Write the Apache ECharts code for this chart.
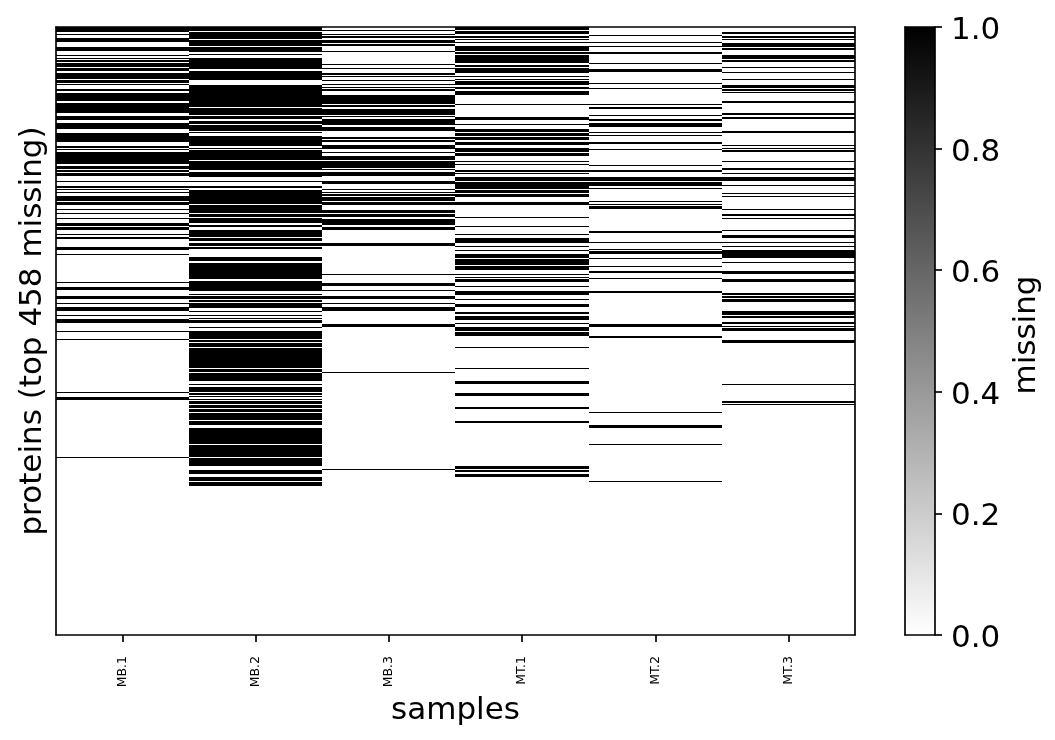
<!DOCTYPE html>
<html><head><meta charset="utf-8">
<style>html,body{margin:0;padding:0;background:#fff}#c{width:1055px;height:740px}</style>
<script src="https://cdn.jsdelivr.net/npm/echarts@6/dist/echarts.min.js"></script>
</head><body><div id="c"></div>
<script>
const samples = ['MB.1','MB.2','MB.3','MT.1','MT.2','MT.3'];
const proteinCount = 458;
const colorbarTicks = [0, 0.2, 0.4, 0.6, 0.8, 1.0];
// protein-row ranges [from, to) that are missing, one list per sample
const missingMB1 = [[0,4],[5,6],[8,11],[15,18],[21,22],[23,24],[25,26],[27,30],[31,33],[35,39],[40,42],[43,44],[47,48],[50,56],[57,65],[67,70],[72,77],[80,87],[90,91],[92,93],[94,103],[105,107],[108,109],[110,112],[116,117],[120,121],[122,123],[124,125],[127,131],[132,134],[137,138],[140,141],[144,145],[148,150],[151,153],[156,157],[158,160],[166,168],[171,172],[192,193],[196,198],[203,205],[208,209],[211,214],[217,218],[220,223],[229,230],[235,236],[275,276],[279,281],[324,325]];
const missingMB2 = [[0,3],[4,9],[10,14],[15,19],[20,21],[23,32],[33,40],[44,60],[61,66],[67,69],[71,73],[74,78],[79,80],[82,90],[91,92],[93,100],[101,108],[109,113],[116,117],[120,121],[123,133],[134,140],[141,143],[144,148],[149,151],[153,158],[159,161],[163,165],[166,167],[173,176],[178,190],[191,199],[201,202],[203,205],[206,207],[208,212],[214,215],[217,218],[219,220],[221,223],[226,227],[229,235],[236,237],[238,241],[242,257],[258,260],[261,267],[269,270],[271,275],[276,277],[278,279],[280,281],[282,284],[285,287],[288,290],[291,296],[297,300],[302,314],[315,324],[325,331],[334,337],[339,342],[343,346]];
const missingMB3 = [[2,3],[5,6],[7,8],[10,12],[13,14],[18,19],[28,29],[31,32],[35,36],[37,38],[40,41],[43,44],[45,46],[47,48],[51,58],[59,60],[62,66],[67,68],[69,74],[75,78],[83,84],[85,87],[89,92],[94,95],[97,100],[101,106],[107,108],[109,112],[116,118],[122,123],[124,125],[126,127],[128,131],[132,134],[138,140],[141,143],[145,149],[151,153],[163,165],[186,187],[193,195],[198,199],[203,205],[208,209],[211,214],[224,226],[260,261],[333,334]];
const missingMT1 = [[0,2],[3,5],[7,8],[9,10],[11,12],[14,18],[19,20],[21,27],[29,30],[31,35],[37,38],[39,40],[41,44],[45,47],[48,51],[58,59],[68,70],[73,74],[77,79],[80,82],[83,85],[87,89],[91,94],[95,97],[101,102],[103,104],[108,109],[110,111],[113,116],[117,122],[123,125],[126,128],[132,134],[143,144],[150,151],[156,157],[159,163],[165,166],[168,169],[171,174],[175,179],[180,183],[186,187],[188,189],[190,192],[195,196],[199,202],[205,206],[209,211],[215,216],[218,221],[223,224],[226,229],[230,233],[241,242],[257,258],[267,269],[276,278],[286,288],[297,298],[331,333],[334,335],[337,339]];
const missingMT2 = [[6,7],[11,12],[14,15],[19,20],[27,28],[32,34],[42,43],[46,47],[58,59],[60,62],[66,67],[69,71],[72,75],[79,80],[81,82],[87,88],[92,93],[104,105],[108,109],[113,116],[117,120],[121,122],[131,132],[133,134],[135,137],[154,155],[162,163],[167,168],[169,171],[174,175],[180,181],[184,185],[189,190],[199,200],[224,226],[233,234],[290,291],[300,302],[314,315],[342,343]];
const missingMT3 = [[4,5],[7,8],[9,10],[12,15],[16,17],[21,24],[25,26],[30,31],[34,35],[39,40],[44,46],[47,48],[49,50],[56,57],[65,66],[68,69],[78,80],[89,90],[91,92],[93,94],[101,102],[106,108],[110,111],[113,116],[119,120],[125,126],[127,128],[137,138],[141,142],[144,145],[153,154],[157,159],[162,163],[165,166],[168,174],[177,178],[184,186],[190,192],[200,202],[203,204],[205,207],[214,217],[218,219],[222,224],[225,226],[227,229],[236,238],[269,270],[282,283],[284,285]];

const runs = [missingMB1,missingMB2,missingMB3,missingMT1,missingMT2,missingMT3]
  .flatMap((list,i)=>list.map(r=>[i,r[0],r[1]]));
const F='"DejaVu Sans"', K='#000', LW=1.67, FS=31;
const hidden={show:false};
const chart=echarts.init(document.getElementById('c'),null,{renderer:'canvas'});
chart.setOption({
  animation:false,backgroundColor:'#fff',
  textStyle:{fontFamily:F,color:K},
  grid:[{left:56,top:27,width:799,height:608,outerBoundsMode:'none'},{left:905,top:27,width:30,height:608,outerBoundsMode:'none'}],
  xAxis:[
    {gridIndex:0,type:'category',data:samples,position:'bottom',z:5,
     axisLine:{onZero:false,lineStyle:{color:K,width:LW}},
     axisTick:{show:true,alignWithLabel:true,length:7,lineStyle:{color:K,width:LW}},
     axisLabel:{rotate:90,fontSize:12.5,color:K,fontFamily:F,margin:21,interval:0},
     splitLine:hidden,
     name:'samples',nameLocation:'middle',nameGap:57,
     nameTextStyle:{fontSize:FS,color:K,fontFamily:F}},
    {gridIndex:0,type:'category',data:samples,position:'top',z:5,
     axisLine:{onZero:false,lineStyle:{color:K,width:LW}},axisTick:hidden,axisLabel:hidden,splitLine:hidden},
    {gridIndex:1,type:'category',data:['missing'],position:'bottom',z:5,
     axisLine:{onZero:false,lineStyle:{color:K,width:LW}},axisTick:hidden,axisLabel:hidden,splitLine:hidden},
    {gridIndex:1,type:'category',data:['missing'],position:'top',z:5,
     axisLine:{onZero:false,lineStyle:{color:K,width:LW}},axisTick:hidden,axisLabel:hidden,splitLine:hidden}
  ],
  yAxis:[
    {gridIndex:0,type:'value',inverse:true,min:0,max:proteinCount,position:'left',z:5,
     axisLine:{show:true,onZero:false,lineStyle:{color:K,width:LW}},axisTick:hidden,axisLabel:hidden,splitLine:hidden,
     name:'proteins (top 458 missing)',nameLocation:'middle',nameRotate:90,nameGap:8,
     nameTextStyle:{fontSize:FS,color:K,fontFamily:F}},
    {gridIndex:0,type:'value',inverse:true,min:0,max:proteinCount,position:'right',z:5,
     axisLine:{show:true,onZero:false,lineStyle:{color:K,width:LW}},axisTick:hidden,axisLabel:hidden,splitLine:hidden},
    {gridIndex:1,type:'value',min:colorbarTicks[0],max:colorbarTicks[5],interval:0.2,position:'right',z:5,
     axisLine:{show:true,onZero:false,lineStyle:{color:K,width:LW}},
     axisTick:{show:true,length:7,lineStyle:{color:K,width:LW}},
     axisLabel:{fontSize:FS,color:K,fontFamily:F,margin:16,verticalAlign:'top',lineHeight:8,formatter:v=>v.toFixed(1)},
     splitLine:hidden,
     name:'missing',nameLocation:'middle',nameRotate:90,nameGap:76,
     nameTextStyle:{fontSize:FS,color:K,fontFamily:F,padding:[0,8,0,0]}},
    {gridIndex:1,type:'value',min:0,max:1,position:'left',z:5,
     axisLine:{show:true,onZero:false,lineStyle:{color:K,width:LW}},axisTick:hidden,axisLabel:hidden,splitLine:hidden}
  ],
  series:[
    {type:'custom',xAxisIndex:0,yAxisIndex:0,data:runs,clip:true,silent:true,
     encode:{x:0,y:[1,2]},
     renderItem:(p,api)=>{
       const a=api.coord([api.value(0),api.value(1)]);
       const b=api.coord([api.value(0),api.value(2)]);
       const w=api.size([1,0])[0];
       const x0=Math.round(a[0]-w/2),x1=Math.round(a[0]+w/2);
       const y0=Math.round(a[1]),y1=Math.max(y0+1,Math.round(b[1]));
       return {type:'rect',shape:{x:x0,y:y0,width:x1-x0,height:y1-y0},style:{fill:'#000'}};
     }},
    {type:'bar',xAxisIndex:2,yAxisIndex:2,data:[1],barWidth:'100%',silent:true,
     itemStyle:{color:new echarts.graphic.LinearGradient(0,0,0,1,[{offset:0,color:'#000'},{offset:1,color:'#fff'}])}}
  ]
});
</script></body></html>
